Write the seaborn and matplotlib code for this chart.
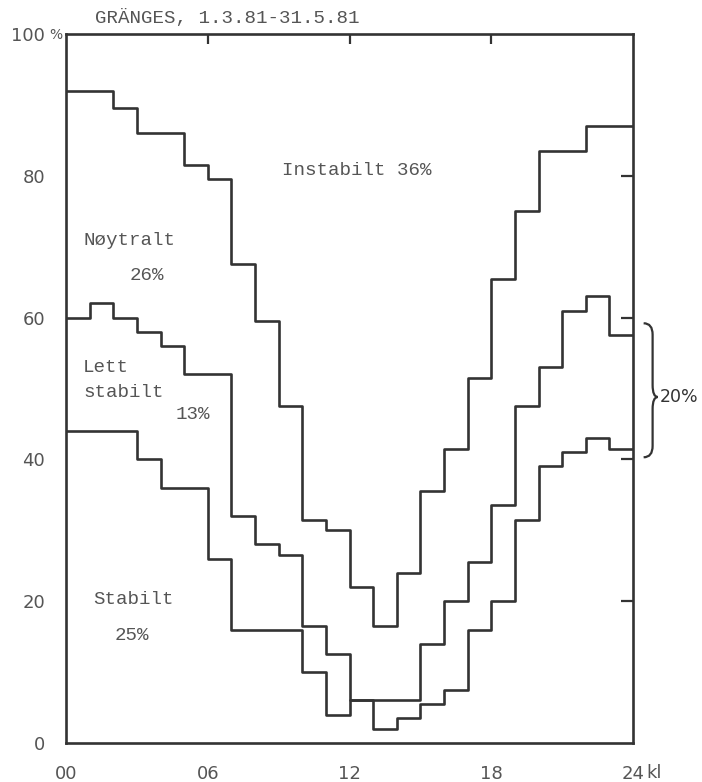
import numpy as np
import pandas as pd
import seaborn as sns
import matplotlib.pyplot as plt
from matplotlib.path import Path
from matplotlib.patches import PathPatch

sns.set_style('white')
plt.rcParams['font.family'] = ['DejaVu Sans']

# hourly cumulative boundaries (%), hour 00..23
hours = list(range(24))
instabil_grense = [92, 92, 89.5, 86, 86, 81.5, 79.5, 67.5, 59.5, 47.5, 31.5, 30,
                   22, 16.5, 24, 35.5, 41.5, 51.5, 65.5, 75, 83.5, 83.5, 87, 87]
noytral_grense = [60, 62, 60, 58, 56, 52, 52, 32, 28, 26.5, 16.5, 12.5,
                  6, 6, 6, 14, 20, 25.5, 33.5, 47.5, 53, 61, 63, 57.5]
stabil_grense = [44, 44, 44, 40, 36, 36, 26, 16, 16, 16, 10, 4,
                 6, 2, 3.5, 5.5, 7.5, 16, 20, 31.5, 39, 41, 43, 41.5]

xticks = [0, 6, 12, 18, 24]
xlabels = ['00', '06', '12', '18', '24']
yticks = [0, 20, 40, 60, 80, 100]
ylabels = ['0', '20', '40', '60', '80', '100']

# long table, last value repeated at 24 so the final step is drawn
rows = []
for name, vals in [('A', instabil_grense), ('B', noytral_grense), ('C', stabil_grense)]:
    for h, v in zip(hours + [24], vals + [vals[-1]]):
        rows.append({'time': h, 'pst': v, 'grense': name})
df = pd.DataFrame(rows)

ink = '#333333'
txt = '#555555'

fig = plt.figure(figsize=(7.02, 7.82), dpi=100)
ax = fig.add_axes([66 / 702, 1 - 743 / 782, (633 - 66) / 702, (743 - 34) / 782])

sns.lineplot(data=df, x='time', y='pst', hue='grense', palette=[ink] * 3,
             legend=False, drawstyle='steps-post', linewidth=1.9, ax=ax,
             estimator=None)

ax.set_xlim(0, 24)
ax.set_ylim(0, 100)
ax.set_xlabel('')
ax.set_ylabel('')
for s in ax.spines.values():
    s.set_color(ink)
    s.set_linewidth(1.9)

ax.set_xticks(xticks)
ax.set_xticklabels(xlabels, fontsize=13, color=txt)
ax.set_yticks(yticks)
ax.set_yticklabels(ylabels, fontsize=13, color=txt)
ax.tick_params(axis='x', direction='out', length=7, width=1.6, color=ink, pad=9)
ax.tick_params(axis='y', direction='out', length=10, width=1.6, color=ink, pad=5)
ax.yaxis.get_major_ticks()[-1].tick1line.set_visible(False)
ax.text(-0.15, 99.9, '%', fontsize=10, color=txt, ha='right', va='center', clip_on=False)

top = ax.secondary_xaxis('top')
top.set_xticks([6, 12, 18])
top.set_xticklabels([])
top.tick_params(direction='in', length=7, width=1.6, color=ink)
top.spines['top'].set_visible(False)
right = ax.secondary_yaxis('right')
right.set_yticks([20, 40, 60, 80])
right.set_yticklabels([])
right.tick_params(direction='in', length=9, width=1.6, color=ink)
right.spines['right'].set_visible(False)

ax.text(24.55, -2.9, 'kl', fontsize=13, color=txt, va='top', ha='left', clip_on=False)

mono = dict(family='Liberation Mono', color=txt, fontsize=13.8)
fig.text(95 / 702, 1 - 18 / 782, 'GRÄNGES, 1.3.81-31.5.81', ha='left', va='center', **mono)
ax.text(12.3, 80.8, 'Instabilt 36%', ha='center', va='center', **mono)
ax.text(0.72, 70.9, 'Nøytralt', ha='left', va='center', **mono)
ax.text(3.42, 65.9, '26%', ha='center', va='center', **mono)
ax.text(0.72, 52.9, 'Lett', ha='left', va='center', **mono)
ax.text(0.72, 49.5, 'stabilt', ha='left', va='center', **mono)
ax.text(5.35, 46.3, '13%', ha='center', va='center', **mono)
ax.text(2.85, 20.2, 'Stabilt', ha='center', va='center', **mono)
ax.text(2.8, 15.2, '25%', ha='center', va='center', **mono)

# curly brace marking a 20 % span, right of the frame
bx0, bx1, btip = 24.45, 24.83, 25.05
verts = [(bx0, 59.2), (bx1, 59.2), (bx1, 57.6),
         (bx1, 50.5),
         (bx1, 48.8), (btip, 48.8),
         (bx1, 48.8), (bx1, 47.1),
         (bx1, 41.9),
         (bx1, 40.3), (bx0, 40.3)]
codes = [Path.MOVETO, Path.CURVE3, Path.CURVE3,
         Path.LINETO,
         Path.CURVE3, Path.CURVE3,
         Path.CURVE3, Path.CURVE3,
         Path.LINETO,
         Path.CURVE3, Path.CURVE3]
ax.add_patch(PathPatch(Path(verts, codes), fill=False, edgecolor=ink,
                       linewidth=1.6, clip_on=False))
ax.text(25.15, 48.8, '20%', fontsize=12.5, color=ink, ha='left', va='center', clip_on=False)

fig.savefig('out.png', dpi=100)
